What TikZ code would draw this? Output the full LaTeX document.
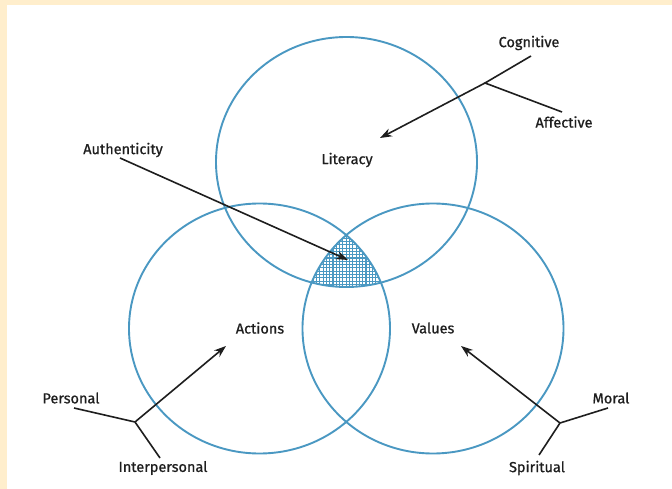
\documentclass[tikz,border=0pt]{standalone}
\usepackage{fontspec}
\setmainfont{Fira Sans}
\newfontfamily\tagfont{Fira Sans}[FakeBold=0.8]
\usetikzlibrary{arrows.meta}
\definecolor{ring}{RGB}{74,152,194}
\definecolor{paper}{RGB}{255,238,204}
\definecolor{ink}{RGB}{30,30,30}

\begin{document}
\begin{tikzpicture}[x=1pt,y=-1pt,
  ring/.style={draw=ring,line width=1.9pt},
  oval/.style={x radius=130.5pt,y radius=125pt},
  branch/.style={draw=ink,line width=1.6pt},
  pointer/.style={branch,-{Stealth[length=12pt,width=8.5pt]}},
  lbl/.style={inner sep=1pt,text=ink,font=\tagfont\fontsize{14.5}{17}\selectfont}]
  \useasboundingbox (0,0) rectangle (672,489);
  \fill[paper] (0,0) rectangle (672,489);
  \fill[white] (7,5) rectangle (672,489);
  % centres of the three sets
  \coordinate (lit) at (346.5,162);
  \coordinate (act) at (259.5,328.5);
  \coordinate (val) at (433,328.5);
  % overlap of all three, cross hatched
  \begin{scope}
    \clip (lit) ellipse[oval];
    \clip (act) ellipse[oval];
    \clip (val) ellipse[oval];
    \foreach \t in {0,3.3,...,90} {
      \draw[ring,line width=1.1pt] (300+\t,225)--++(0,70);
      \draw[ring,line width=1.1pt] (300,225+\t)--++(90,0);
    }
  \end{scope}
  \draw[ring] (lit) ellipse[oval];
  \draw[ring] (act) ellipse[oval];
  \draw[ring] (val) ellipse[oval];
  % labels
  \node[lbl] (literacy) at (347,160) {Literacy};
  \node[lbl] (actions) at (260,328) {Actions};
  \node[lbl] (values) at (433,328) {Values};
  \node[lbl] (authenticity) at (123,150) {Authenticity};
  \node[lbl] (cognitive) at (529,43) {Cognitive};
  \node[lbl] (affective) at (564,122) {Affective};
  \node[lbl] (personal) at (71,398) {Personal};
  \node[lbl] (interpersonal) at (163,468) {Interpersonal};
  \node[lbl] (moral) at (611,398) {Moral};
  \node[lbl] (spiritual) at (537,468) {Spiritual};
  % forks and arrow tips
  \coordinate (litfork) at (485,83);
  \coordinate (cogend) at (531,56);
  \coordinate (affend) at (562,112);
  \coordinate (littip) at (380,138);
  \coordinate (authend) at (120,158);
  \coordinate (authtip) at (348,260);
  \coordinate (actfork) at (135,422);
  \coordinate (perend) at (74,408);
  \coordinate (intend) at (160,458);
  \coordinate (acttip) at (226,346);
  \coordinate (valfork) at (560,423);
  \coordinate (morend) at (608,408);
  \coordinate (spiend) at (539,455);
  \coordinate (valtip) at (461,346);
  \draw[branch] (cogend)--(litfork)--(affend);
  \draw[pointer] (litfork)--(littip);
  \draw[pointer] (authend)--(authtip);
  \draw[branch] (perend)--(actfork)--(intend);
  \draw[pointer] (actfork)--(acttip);
  \draw[branch] (morend)--(valfork)--(spiend);
  \draw[pointer] (valfork)--(valtip);
\end{tikzpicture}
\end{document}
